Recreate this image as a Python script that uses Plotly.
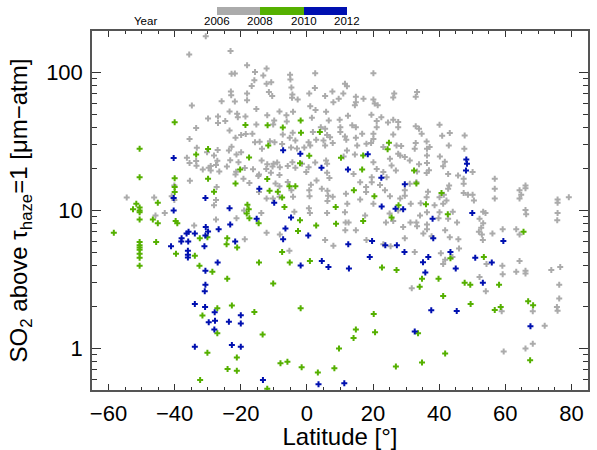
import plotly.graph_objects as go

# ---- data (latitude [deg], SO2 [um-atm]) ----
gray_lat = [
-29.9,-26.9,-26.9,-33.5,-35.5,-33.3,-30.2,-27.0,-36.3,-35.5,-33.5,-33.4,-31.5,-29.7,-29.1,-27.5,-26.5,-35.4,-40.1,-27.3,
-27.5,-46.2,-45.8,-43.0,-40.1,-27.5,-34.1,-54.5,-40.9,-35.6,-34.8,-30.6,-23.1,-25.8,-24.7,-23.0,-22.9,-23.4,-21.1,-20.9,
-21.8,-18.1,-22.8,-21.8,-15.7,-15.9,-16.7,-12.2,-12.2,-10.8,-11.5,-10.5,-13.2,-18.1,-18.1,-15.3,-18.6,-23.4,-21.6,-22.8,
-18.5,-16.5,-14.3,-15.7,-13.6,-11.2,-9.8,-8.3,-9.9,-10.2,-6.2,-4.2,-5.1,-5.0,-4.7,-4.4,-4.5,-2.8,2.5,2.4,
0.7,1.0,2.6,5.8,7.7,9.6,11.5,12.1,6.6,9.9,10.1,10.1,11.5,11.9,7.0,5.0,2.8,0.5,-0.8,-3.0,
-4.8,-4.3,-5.2,1.8,4.2,-4.4,-1.5,0.5,-0.2,2.5,5.8,6.1,6.1,6.8,4.5,6.2,6.4,11.8,12.2,11.1,
1.2,-4.7,-5.8,-8.2,-8.3,-10.4,-12.0,-13.7,-12.3,-10.9,-14.5,-16.3,-18.8,-20.7,-21.4,-24.2,-29.1,-28.1,-27.1,-23.2,
-21.6,-17.4,-14.7,-10.1,-14.5,-13.8,-10.3,-8.3,-8.3,0.7,0.8,2.9,6.2,0.6,0.9,6.1,11.5,11.7,-3.8,
20.1,11.0,8.0,14.8,14.8,17.1,14.5,20.1,20.5,21.4,26.4,26.1,33.3,32.9,19.5,22.5,26.1,27.6,27.6,24.5,
21.1,21.1,16.7,14.8,13.7,12.4,14.8,20.1,20.1,19.4,26.1,27.1,28.5,32.9,33.9,32.9,34.7,36.2,37.1,40.1,
40.9,43.2,42.9,
47.7,47.6,50.1,40.2,41.7,36.3,36.3,33.9,33.3,36.2,36.9,41.2,42.7,43.0,45.7,47.4,47.4,47.4,48.7,50.1,
50.5,53.3,54.0,52.2,53.3,52.7,52.0,52.9,53.2,56.1,56.8,56.8,56.8,59.2,64.3,64.8,66.1,66.1,64.3,66.1,
66.3,63.3,64.3,75.8,75.8,75.8,75.7,79.2,64.3,63.3,66.1,66.1,59.1,59.2,54.3,52.2,54.1,58.9,59.5,68.3,
66.1,71.9,75.6,75.8,76.3,76.3,73.9,76.6,68.3,40.1,39.8,36.3,36.3,37.7,35.2,41.2,43.2,31.7,45.8,29.1,
33.1,33.3,26.1,29.6,25.3,23.1,40.5,41.8,46.0,36.3,34.2,40.1,41.2,42.2,42.7,36.2,36.6,33.1,31.1,29.6,
31.4,28.2,25.1,23.6,22.1,23.1,24.1,25.6,26.9,25.1,28.2,29.6,31.1,20.1,21.1,19.6,19.6,17.9,17.9,16.1,
16.1,20.1,14.1,14.8,12.6,12.1,14.5,15.2,18.0,23.1,27.6,32.6,36.3,
29.6,27.6,25.0,23.9,31.3,34.4,38.6,41.4,42.7,41.8,45.4,44.1,17.6,18.0,8.0,32.6,44.0,
5.5,-15.3,-12.0,-6.1,1.5,5.5,6.1,-19.9,-7.3,-7.5,-3.5,1.0,5.5,7.8,
-23.6,-21.3,-19.9,-19.2,-28.1,-9.0,-9.5,-3.5,-5.8,7.8,-4.2,-12.2,-19.0,-21.3,-18.8,-12.2,-8.2,-5.3,5.5,11.6,
]
gray_so2 = [
46.5,48,43,39.6,33,28.5,26.4,27.4,24.1,22.1,22.8,21.1,19.8,20.4,19.5,21.4,19.2,16.4,15.2,14.8,
11.9,12.4,9.2,9.6,11.9,8.6,7.8,12.4,12.7,135,57.6,183,143,62,44.6,73,68.5,52.2,50.3,47.5,
61.6,113,98,98.5,101,87.9,80,107,83,85,72.3,67.5,95,70.4,63,54.4,48,38,33.7,29,
35.8,36,31.5,31.2,28,31.8,31.2,52.2,45,42,49,52,96.5,89,78,69.4,65.7,63.8,99,77.4,
70.4,57,53.6,52,73,64.5,83,79.5,45,45.5,40.2,37,34.4,32.6,34,32.2,32.6,31.3,28.6,28.2,
28.6,36.6,33.7,37,40.2,22.4,21.8,20.6,19,22.3,23,21.8,18.8,17.2,14.4,13.9,12.8,13.2,11.2,24.6,
15.4,14,21,20.6,18.1,20.8,21.6,23,20,18.8,18.2,19.9,20.3,22.4,19.1,20.8,21,25,22.9,23.1,
18.2,15.8,17.8,21.8,13.6,9.6,12.2,12.6,15,14,12.7,16.5,11.7,10.4,9.6,9.6,9.7,8.2,9.8,
99,70.4,61,66.7,61,64.5,58,63.8,59.6,58,70.4,66,72.3,66.7,49.4,47.5,45.5,43.8,40.2,43.5,
44.5,40.2,36,40.2,41.4,48.7,33.7,36,33,30.8,35.5,29.6,29.4,40.8,39.2,30.8,36,31.6,28.8,41.9,
34.8,36.4,29.6,
35,28,19,24.6,22.6,25,22.1,21.6,19.2,18.7,19.6,20.9,18.4,15.2,17.9,17,15.6,13.4,13,13,
11.8,9.8,9.6,8.7,8.1,7.5,7,6.7,6.1,6.8,17,14.4,12.2,7.3,14,13,15.2,14.5,12.2,10.1,
9.4,7.3,6.7,12,11.4,9.6,8.5,12.5,4.3,3.6,3.66,3.5,3.98,3.45,4.1,3.3,2.6,1.86,0.95,1.08,
1.0,1.46,2.0,1.88,2.3,2.9,3.7,3.9,1.86,9.7,8.8,7.9,7.3,6.5,6.8,4.1,6.4,2.73,6.2,7.6,
8.2,7.7,8.4,6.3,5.5,5.7,4.9,4.4,5.3,9.7,9.2,12.5,11.2,11.8,14.4,12.5,13.7,16,15.6,14,
11.2,12.2,12.7,14,15.3,19,17.4,21.2,19.5,23.7,25,24.4,23,22.4,20,17.4,16,14.8,13.6,16,
12,11.2,18.4,7.2,8.2,27.2,25.5,29.6,30.5,28.8,25.8,28,28,
12.8,10,9.5,8.2,8.2,11.3,10.9,13,8.7,7.2,8.2,9.8,9.2,6.1,5.55,5.0,4.6,
67.5,42,49,44.1,47,39.2,35.3,35.3,35.5,30.4,32.2,29.6,29.6,30.8,
27.2,25.5,26.4,17,10.9,22.3,15.7,20.4,16.1,12.6,12.6,12.2,10,8.8,6.2,6.9,6.7,5.1,6.1,7.2,
]

green_lat = [
-58.4,-50.6,-50.6,-51.6,-52.6,-50.6,-50.6,-50.6,-50.6,-50.6,-50.6,-50.6,-50.6,-50.6,-50.6,-50.6,
-45.1,-46.6,-45.1,-45.6,-40.0,-40.0,-40.0,-40.0,-39.7,-39.2,-39.6,-33.5,-29.9,-29.9,-28.1,-32.4,-33.9,
-18.6,-11.9,-7.3,-1.9,-1.8,3.9,-11.7,-17.5,0.7,-2.1,-20.2,-21.6,-12.0,-8.8,-11.3,-5.3,-3.5,-7.5,-6.8,
-18.0,-17.6,-18.2,-17.4,-14.6,-2.1,2.8,8.7,8.8,10.3,
-30.1,-24.1,-24.3,-21.1,-32.5,-28.6,-24.1,-14.5,-10.2,-27.1,-31.6,-22.7,-15.9,-27.1,-13.4,-30.1,-21.2,-24.0,
-21.2,-32.3,-8.0,-5.9,-1.6,3.3,8.3,9.7,-12.0,-1.9,-7.5,-5.2,0.9,-2.7,
14.1,14.8,20.6,20.2,22.7,24.8,24.4,17.0,16.7,32.4,33.1,14.2,20.4,27.7,36.0,40.7,42.6,25.6,17.0,65.5,
43.4,53.5,27.1,34.8,34.1,39.8,47.7,49.4,58.1,41.2,49.5,56.8,58.6,66.9,68.4,33.6,41.8,34.8,26.9,67.5,
]
green_so2 = [
6.9,28,17.4,11.2,10.2,10.5,10,9.7,8.6,5.9,5.6,5.4,5.2,4.85,4.55,3.97,
11.4,8.6,8.1,5.9,43.6,17.1,14.8,13.6,8.4,8.1,4.85,25.5,27.9,17,13.7,6.3,4.7,
41.6,41.4,39.9,45,36.6,37,29.6,24.2,24.9,22,19.8,15.7,16.9,13.7,13.9,15,15,12.4,10.6,
11,10.2,9.5,8.8,8.1,8.5,7.8,10.6,8,24.1,
6.4,6.3,5.7,5.4,3.97,3.6,3.2,4.2,2.96,1.96,1.73,2.05,1.84,1.29,1.26,0.93,0.86,0.71,
0.69,0.59,0.78,0.8,0.73,0.67,0.72,1.0,0.51,1.96,5.0,4.2,4.3,7.1,
1.19,1.37,1.31,1.78,3.86,31,27.8,25,19.8,19.5,15.7,14,12.7,10.9,11.1,13.4,9.4,8.9,8.4,7.0,
4.5,4.6,3.7,3.2,2.8,3.2,3.0,2.9,2.9,2.4,2.1,1.9,2.0,2.2,2.06,1.29,0.92,0.79,0.74,0.82,
]

blue_lat = [
-40.3,-40.3,-40.3,-30.7,-23.4,-30.6,-26.7,-23.2,-15.2,-14.4,-9.9,-7.2,-2.0,-4.8,4.4,12.4,
-35.8,-36.4,-33.9,-37.9,-38.0,-35.9,-41.1,-36.0,-36.0,-36.0,-29.9,-30.7,-31.0,-21.7,
-30.7,-27.0,-30.7,-30.9,-33.9,-30.8,-27.9,-29.7,-27.8,-28.0,-23.6,-20.0,-20.0,-33.9,-22.7,-20.0,
-13.3,3.5,11.3,-6.5,-7.2,0.4,-1.9,4.5,6.5,12.5,12.7,19.0,
18.4,22.5,29.6,22.6,26.8,29.1,38.0,38.2,19.7,23.7,27.2,29.5,36.7,43.4,48.2,48.4,48.1,50.0,59.4,50.9,
55.9,35.1,35.8,45.0,53.2,37.6,45.3,67.6,32.6,
]
blue_so2 = [
24,12.3,10,12.3,10.4,7.6,7.3,7.9,8.7,14.4,11.4,27.3,25.8,8.9,20.4,19.8,
7.0,6.8,6.8,6.3,5.95,5.95,5.5,5.1,4.77,4.56,7.04,6.6,5.5,5.95,
3.66,4.2,2.9,2.6,2.1,2.0,1.83,1.55,1.59,1.37,1.56,1.74,1.52,1.03,1.06,1.03,
0.59,0.55,0.56,7.4,6.2,6.6,4.0,4.3,3.9,5.7,3.8,4.6,
25.6,17.3,15.5,10.7,10.3,10.2,8.7,6.3,6.0,5.6,5.6,5.0,4.6,5.0,23.4,21.8,19.5,9.6,6.0,4.55,
4.2,4.22,3.56,3.8,3.0,1.89,1.87,1.45,1.33,
]

year_ticks = [2006, 2008, 2010, 2012]

GRAY = "#ababab"
GREEN = "#55b000"
BLUE = "#0010b0"
FONT = "Liberation Sans, Arial, Helvetica, sans-serif"

# plot-area geometry in page pixels
W, H = 597, 450
L, R, T, B = 92, 9, 31, 60
PW, PH = W - L - R, H - T - B

fig = go.Figure()
for lat, so2, col in [(gray_lat, gray_so2, GRAY), (green_lat, green_so2, GREEN), (blue_lat, blue_so2, BLUE)]:
    fig.add_trace(go.Scatter(
        x=lat, y=so2, mode="markers", showlegend=False, hoverinfo="x+y",
        marker=dict(symbol="cross", size=5, color=col, line=dict(width=0)),
    ))

# colour bar for the year (bar from x=217 to 347 px, y=7 to 15 px)
cb_left, cb_len = 217, 130
fig.add_trace(go.Scatter(
    x=[None], y=[None], mode="markers", showlegend=False, hoverinfo="skip",
    marker=dict(
        color=[year_ticks[0]], cmin=year_ticks[0], cmax=year_ticks[-1],
        colorscale=[[0, GRAY], [1/3, GRAY], [1/3, GREEN], [2/3, GREEN], [2/3, BLUE], [1, BLUE]],
        showscale=True,
        colorbar=dict(
            orientation="h", lenmode="pixels", len=cb_len, thicknessmode="pixels", thickness=8,
            x=(cb_left + cb_len / 2 - L) / PW, xanchor="center", y=(H - B - 7) / PH, yanchor="top",
            xpad=0, ypad=0, outlinewidth=0, tickvals=year_ticks, ticks="", showticklabels=False,
        ),
    ),
))

lab_y = (H - B - 21) / PH
for yr in year_ticks:
    fig.add_annotation(text=str(yr), xref="paper", yref="paper",
                       x=(cb_left + (yr - year_ticks[0]) / (year_ticks[-1] - year_ticks[0]) * cb_len - L) / PW,
                       y=lab_y, xanchor="center", yanchor="middle", showarrow=False,
                       font=dict(family=FONT, size=11.5, color="black"))
fig.add_annotation(text="Year", xref="paper", yref="paper", x=(159 - L) / PW, y=lab_y,
                   xanchor="right", yanchor="middle", showarrow=False,
                   font=dict(family=FONT, size=11.5, color="black"))

axis_common = dict(
    showline=True, linecolor="#555555", linewidth=1.5, mirror="allticks",
    ticks="inside", tickcolor="#333333", showgrid=False, zeroline=False,
    tickfont=dict(family=FONT, size=22, color="black"),
)

fig.update_xaxes(
    range=[-65, 85], tickvals=[-60, -40, -20, 0, 20, 40, 60, 80], ticklen=6, tickwidth=1,
    minor=dict(ticks="inside", dtick=5, tick0=0, ticklen=3, tickcolor="#333333"),
    title=dict(text="Latitude [°]", font=dict(family=FONT, size=24, color="black"), standoff=12),
    ticklabelstandoff=3,
    **axis_common,
)
fig.update_yaxes(
    type="log", range=[-0.30103, 2.30103], tickvals=[1, 10, 100], ticktext=["1", "10", "100"],
    ticklen=9, tickwidth=1,
    minor=dict(ticks="inside", dtick="D1", ticklen=5, tickcolor="#333333"),
    title=dict(text="SO<sub>2</sub> above τ<sub>haze</sub>=1 [μm−atm]",
               font=dict(family=FONT, size=24, color="black"), standoff=12),
    ticklabelstandoff=3,
    **axis_common,
)

fig.update_layout(
    width=W, height=H, margin=dict(l=L, r=R, t=T, b=B, autoexpand=False),
    plot_bgcolor="white", paper_bgcolor="white",
    font=dict(family=FONT, color="black"),
)

fig.write_html("out.html", config={"displayModeBar": False},
               post_script="document.body.style.margin='0px';")
